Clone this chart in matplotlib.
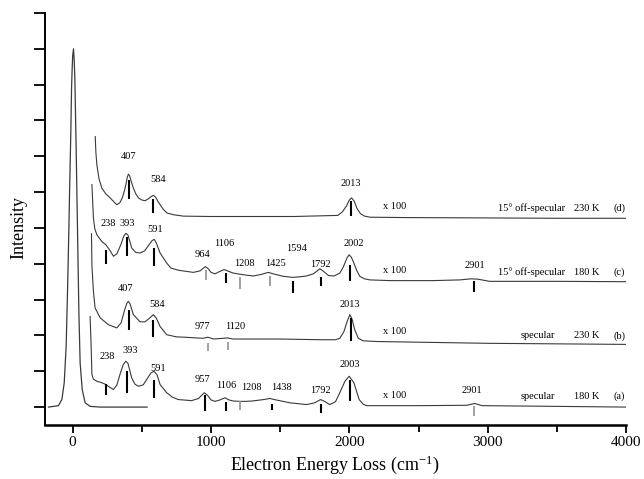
import matplotlib
matplotlib.use("Agg")
import matplotlib.pyplot as plt
from matplotlib.ticker import MultipleLocator

plt.rcParams['font.family'] = ['Liberation Serif', 'DejaVu Serif']
plt.rcParams['mathtext.fontset'] = 'stix'

# ---------------- data ----------------
# elastic peak
elastic_x = [-175, -103, -78, -61, -47, -38, -30, -23, -13, -8, -4, 0, 6, 11, 16, 25, 35, 45, 54, 69, 90, 126, 200, 538]
elastic_y = [0.0, 0.04, 0.21, 0.68, 1.70, 3.09, 4.49, 5.88, 7.74, 8.9, 9.41, 9.8, 10.0, 9.7, 9.14, 7.27, 4.95, 2.63, 1.23, 0.49, 0.12, 0.02, 0.0, 0.0]

# (d) 15 deg off-specular 230 K (x100)
d_x = [163, 168, 175, 190, 211, 240, 271, 300, 319, 340, 360, 375, 385, 395, 403, 412, 425, 439, 457, 475, 500, 524, 550, 568, 584, 600, 615, 632, 655, 681, 728, 800, 1000, 1300, 1600, 1917, 1950, 1980, 2000, 2016, 2035, 2055, 2080, 2110, 2150, 2400, 3000, 3500, 4000]
d_y = [7.55, 7.10, 6.76, 6.38, 6.11, 5.95, 5.84, 5.72, 5.65, 5.70, 5.85, 6.05, 6.22, 6.42, 6.50, 6.45, 6.28, 6.11, 5.95, 5.84, 5.78, 5.76, 5.82, 5.88, 5.91, 5.86, 5.75, 5.65, 5.52, 5.42, 5.37, 5.33, 5.32, 5.32, 5.32, 5.35, 5.45, 5.62, 5.78, 5.84, 5.75, 5.55, 5.40, 5.33, 5.30, 5.29, 5.28, 5.27, 5.27]

# (c) 15 deg off-specular 180 K (x100)
c_x = [139, 145, 150, 160, 175, 211, 240, 265, 295, 320, 350, 370, 385, 400, 427, 455, 487, 520, 550, 575, 590, 605, 632, 680, 710, 764, 872, 920, 945, 960, 980, 1000, 1029, 1060, 1095, 1120, 1161, 1208, 1260, 1305, 1360, 1414, 1450, 1522, 1594, 1650, 1691, 1740, 1787, 1810, 1850, 1890, 1931, 1955, 1968, 1985, 1999, 2015, 2033, 2055, 2076, 2110, 2148, 2300, 2600, 2800, 2880, 2930, 3014, 3500, 4000]
c_y = [6.21, 5.70, 5.28, 4.98, 4.81, 4.62, 4.53, 4.40, 4.21, 4.28, 4.55, 4.78, 4.85, 4.80, 4.44, 4.32, 4.30, 4.36, 4.52, 4.65, 4.68, 4.58, 4.30, 4.02, 3.88, 3.82, 3.76, 3.80, 3.88, 3.92, 3.86, 3.76, 3.72, 3.78, 3.84, 3.80, 3.74, 3.71, 3.68, 3.66, 3.70, 3.76, 3.72, 3.65, 3.62, 3.64, 3.66, 3.72, 3.86, 3.80, 3.67, 3.66, 3.74, 3.90, 4.02, 4.18, 4.25, 4.18, 4.02, 3.80, 3.65, 3.58, 3.55, 3.53, 3.53, 3.55, 3.58, 3.57, 3.51, 3.51, 3.50]

# (b) specular 230 K (x100)
b_x = [136, 139, 150, 162, 199, 258, 319, 350, 375, 392, 403, 415, 439, 487, 523, 555, 583, 605, 632, 680, 750, 812, 940, 977, 1020, 1120, 1160, 1500, 1800, 1900, 1931, 1960, 1985, 2004, 2020, 2040, 2065, 2100, 2200, 3000, 4000]
b_y = [4.84, 3.97, 3.23, 2.77, 2.49, 2.30, 2.21, 2.35, 2.70, 2.90, 2.95, 2.88, 2.58, 2.38, 2.38, 2.48, 2.58, 2.48, 2.25, 2.02, 1.96, 1.95, 1.92, 1.95, 1.90, 1.93, 1.90, 1.90, 1.88, 1.88, 1.92, 2.10, 2.40, 2.58, 2.45, 2.15, 1.92, 1.85, 1.83, 1.78, 1.75]

# (a) specular 180 K (x100)
a_x = [126, 130, 134, 139, 150, 175, 211, 240, 265, 295, 320, 345, 365, 384, 400, 427, 450, 475, 510, 540, 565, 588, 610, 632, 680, 720, 764, 860, 910, 935, 952, 975, 1000, 1029, 1065, 1101, 1130, 1161, 1208, 1253, 1300, 1380, 1426, 1470, 1570, 1691, 1750, 1792, 1820, 1859, 1900, 1931, 1968, 1999, 2033, 2071, 2100, 2124, 2500, 2850, 2906, 2960, 3500, 4000]
a_y = [2.53, 2.10, 1.65, 0.91, 0.78, 0.72, 0.68, 0.63, 0.56, 0.49, 0.62, 0.95, 1.18, 1.28, 1.22, 0.81, 0.64, 0.58, 0.62, 0.80, 0.95, 1.00, 0.90, 0.63, 0.40, 0.28, 0.21, 0.18, 0.24, 0.34, 0.40, 0.33, 0.20, 0.16, 0.20, 0.26, 0.20, 0.17, 0.16, 0.16, 0.17, 0.21, 0.24, 0.20, 0.12, 0.07, 0.12, 0.21, 0.16, 0.07, 0.15, 0.40, 0.72, 0.86, 0.68, 0.21, 0.08, 0.04, 0.04, 0.05, 0.10, 0.04, 0.02, 0.0]

# peak markers: position, top, bottom, gray?
d_mk_x = [407, 584, 2013]
d_mk_top = [6.35, 5.82, 5.74]
d_mk_bot = [5.82, 5.42, 5.32]
d_mk_gray = [0, 0, 0]

c_mk_x = [238, 393, 591, 964, 1106, 1208, 1425, 1594, 1792, 2002, 2901]
c_mk_top = [4.39, 4.76, 4.44, 3.84, 3.74, 3.62, 3.65, 3.51, 3.63, 3.97, 3.51]
c_mk_bot = [3.99, 4.21, 3.93, 3.56, 3.46, 3.30, 3.37, 3.19, 3.39, 3.51, 3.20]
c_mk_gray = [0, 0, 0, 1, 0, 1, 1, 0, 0, 0, 0]

b_mk_x = [407, 584, 977, 1120, 2013]
b_mk_top = [2.72, 2.44, 1.79, 1.81, 2.49]
b_mk_bot = [2.16, 1.97, 1.56, 1.58, 1.84]
b_mk_gray = [0, 0, 1, 1, 0]

a_mk_x = [238, 393, 591, 957, 1106, 1208, 1438, 1792, 2003, 2901]
a_mk_top = [0.65, 1.00, 0.77, 0.35, 0.13, 0.16, 0.10, 0.10, 0.77, 0.02]
a_mk_bot = [0.35, 0.40, 0.26, -0.12, -0.12, -0.09, -0.09, -0.16, 0.16, -0.26]
a_mk_gray = [0, 0, 0, 0, 0, 1, 0, 0, 0, 1]

# peak labels: text, x, y
d_lab = [("407", 401, 6.99), ("584", 617, 6.35), ("2013", 2011, 6.23)]
c_lab = [("238", 259, 5.12), ("393", 396, 5.12), ("591", 594, 4.97), ("964", 940, 4.25),
         ("1106", 1094, 4.58), ("1208", 1240, 4.00), ("1425", 1464, 4.02), ("1594", 1619, 4.44),
         ("1792", 1792, 3.99), ("2002", 2032, 4.56), ("2901", 2906, 3.96)]
b_lab = [("407", 384, 3.31), ("584", 608, 2.86), ("977", 937, 2.25), ("1120", 1173, 2.25), ("2013", 2004, 2.86)]
a_lab = [("238", 247, 1.42), ("393", 415, 1.58), ("591", 615, 1.07), ("957", 937, 0.77),
         ("1106", 1108, 0.60), ("1208", 1294, 0.54), ("1438", 1510, 0.56), ("1792", 1794, 0.47),
         ("2003", 2004, 1.19), ("2901", 2887, 0.47)]

# right-side descriptions
series_tags = ["(d)", "(c)", "(b)", "(a)"]
series_geom = ["15° off-specular", "15° off-specular", "specular", "specular"]
series_temp = ["230 K", "180 K", "230 K", "180 K"]
series_scale = ["x 100", "x 100", "x 100", "x 100"]
desc_y = [5.55, 3.76, 1.99, 0.30]
scale_y = [5.59, 3.81, 2.10, 0.32]

# ---------------- plot ----------------
fig = plt.figure(figsize=(6.44, 4.79), dpi=100)
ax = fig.add_axes([45/644, (479-425)/479, (626-45)/644, (425-13)/479])

curve_col = '#3a3a3a'
ax.plot(elastic_x, elastic_y, color=curve_col, lw=0.9)
for xs, ys in [(d_x, d_y), (c_x, c_y), (b_x, b_y), (a_x, a_y)]:
    ax.plot(xs, ys, color=curve_col, lw=0.8)

for mx, mt, mb, mg in [(d_mk_x, d_mk_top, d_mk_bot, d_mk_gray),
                       (c_mk_x, c_mk_top, c_mk_bot, c_mk_gray),
                       (b_mk_x, b_mk_top, b_mk_bot, b_mk_gray),
                       (a_mk_x, a_mk_top, a_mk_bot, a_mk_gray)]:
    for x, t, b, g in zip(mx, mt, mb, mg):
        ax.plot([x, x], [b, t], color='#999999' if g else 'black', lw=1.3 if g else 1.5,
                solid_capstyle='butt')

fs = 7.5
for labs in [d_lab, c_lab, b_lab, a_lab]:
    for txt, x, y in labs:
        ax.text(x, y, txt, fontsize=fs, ha='center', va='center', color='black')

for i in range(4):
    ax.text(2329, scale_y[i], series_scale[i], fontsize=fs, ha='center', va='center')
    gx = 3320 if 'off' in series_geom[i] else 3363
    ax.text(gx, desc_y[i], series_geom[i], fontsize=fs, ha='center', va='center')
    ax.text(3715, desc_y[i], series_temp[i], fontsize=fs, ha='center', va='center')
    ax.text(3950, desc_y[i], series_tags[i], fontsize=fs, ha='center', va='center')

ax.set_xlim(-200, 4000)
ax.set_ylim(-0.5, 11)
ax.xaxis.set_major_locator(MultipleLocator(1000))
ax.xaxis.set_minor_locator(MultipleLocator(500))
ax.yaxis.set_major_locator(MultipleLocator(1))
ax.set_yticklabels([])
ax.tick_params(axis='x', which='major', direction='out', length=6, width=1.3, labelsize=11, pad=2)
ax.tick_params(axis='x', which='minor', direction='out', length=5, width=1.3)
ax.tick_params(axis='y', which='major', direction='out', length=8, width=1.3, labelleft=False)
for s in ['top', 'right']:
    ax.spines[s].set_visible(False)
ax.spines['left'].set_linewidth(1.4)
ax.spines['bottom'].set_linewidth(1.8)

ax.set_xlabel('Electron Energy Loss (cm$^{\\mathregular{-1}}$)', fontsize=13, labelpad=3)
ax.set_ylabel('Intensity', fontsize=13)
ax.yaxis.set_label_coords(-0.031, 0.48)

fig.savefig('out.png', dpi=100)
